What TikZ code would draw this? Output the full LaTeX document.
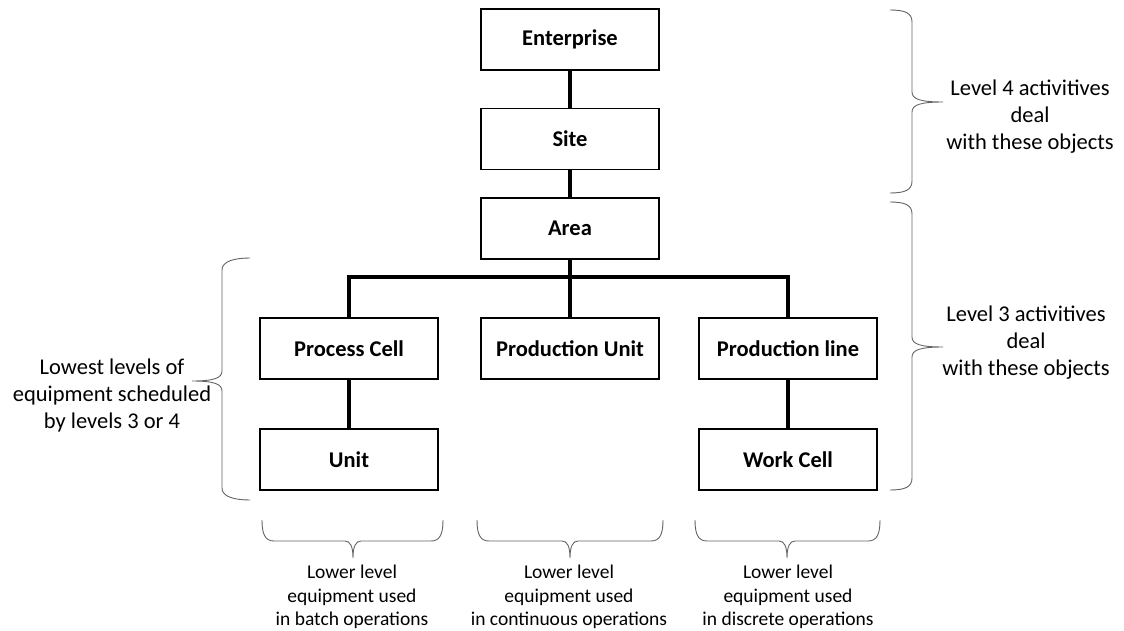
\documentclass[tikz,border=0pt]{standalone}
\usepackage{fontspec}
\setmainfont{Carlito}
\definecolor{bracegray}{RGB}{100,100,100}
\begin{document}
\begin{tikzpicture}[x=1pt,y=-1pt,
  unitbox/.style={draw=black, line width=1.4pt, fill=white, minimum width=178pt,
    minimum height=61pt, inner sep=0pt, font=\fontsize{22.5}{26}\selectfont\bfseries},
  link/.style={line width=3.3pt, line cap=rect},
  brc/.style={draw=bracegray, line width=0.9pt},
  note/.style={align=center, inner sep=0pt, font=\fontsize{22.5}{27}\selectfont},
  smallnote/.style={align=center, inner sep=0pt, font=\fontsize{19.5}{23.5}\selectfont}]
\useasboundingbox (0,0) rectangle (1124,631);

% hierarchy boxes
\node[unitbox] (ent)  at (570,39.5)  {Enterprise};
\node[unitbox] (site) at (570,139)   {Site};
\node[unitbox] (area) at (570,228.5) {Area};
\node[unitbox] (pc)   at (349,348.5) {Process Cell};
\node[unitbox] (pu)   at (570,348.5) {Production Unit};
\node[unitbox] (pl)   at (788,348.5) {Production line};
\node[unitbox] (unit) at (349,459.5) {Unit};
\node[unitbox] (wc)   at (788,459.5) {Work Cell};

% connectors
\coordinate (bus) at (570,277);
\draw[link] (ent.south) -- (site.north);
\draw[link] (site.south) -- (area.north);
\draw[link] (area.south) -- (bus);
\draw[link] (pc.north) |- (bus) -| (pl.north);
\draw[link] (bus) -- (pu.north);
\draw[link] (pc.south) -- (unit.north);
\draw[link] (pl.south) -- (wc.north);

% right braces
\draw[brc] (890,10) .. controls (905,10) and (912,13) .. (912,22) -- (912,92)
  .. controls (912,99) and (920,102) .. (943,102)
  .. controls (920,102) and (912,105) .. (912,112) -- (912,181)
  .. controls (912,190) and (905,193) .. (890,193);
\draw[brc] (890,202) .. controls (905,202) and (912,205) .. (912,214) -- (912,337)
  .. controls (912,344) and (920,347) .. (943,347)
  .. controls (920,347) and (912,350) .. (912,357) -- (912,478)
  .. controls (912,487) and (905,490) .. (890,490);

% left brace
\draw[brc] (250,258) .. controls (235,258) and (222,261) .. (222,270) -- (222,371)
  .. controls (222,378) and (214,381) .. (192,381)
  .. controls (214,381) and (222,384) .. (222,391) -- (222,488)
  .. controls (222,497) and (235,500) .. (250,500);

% bottom braces
\draw[brc] (262,520) .. controls (262,534) and (265,541) .. (274,541) -- (345,541)
  .. controls (350,541) and (353,546) .. (353,558)
  .. controls (353,546) and (356,541) .. (361,541) -- (431,541)
  .. controls (440,541) and (443,534) .. (443,520);
\draw[brc] (477,520) .. controls (477,534) and (480,541) .. (489,541) -- (562,541)
  .. controls (567,541) and (570,546) .. (570,558)
  .. controls (570,546) and (573,541) .. (578,541) -- (651,541)
  .. controls (660,541) and (663,534) .. (663,520);
\draw[brc] (695,520) .. controls (695,534) and (698,541) .. (707,541) -- (779,541)
  .. controls (784,541) and (787,546) .. (787,558)
  .. controls (787,546) and (790,541) .. (795,541) -- (868,541)
  .. controls (877,541) and (880,534) .. (880,520);

% annotations
\node[note] (l4) at (1030,117) {Level 4 activitives\\deal\\with these objects};
\node[note] (l3) at (1026,343) {Level 3 activitives\\deal\\with these objects};
\node[note] (low) at (112,395) {Lowest levels of\\equipment scheduled\\by levels 3 or 4};
\node[smallnote] (batch) at (352,597) {Lower level\\equipment used\\in batch operations};
\node[smallnote] (cont)  at (569,597) {Lower level\\equipment used\\in continuous operations};
\node[smallnote] (disc)  at (788,597) {Lower level\\equipment used\\in discrete operations};
\end{tikzpicture}
\end{document}
